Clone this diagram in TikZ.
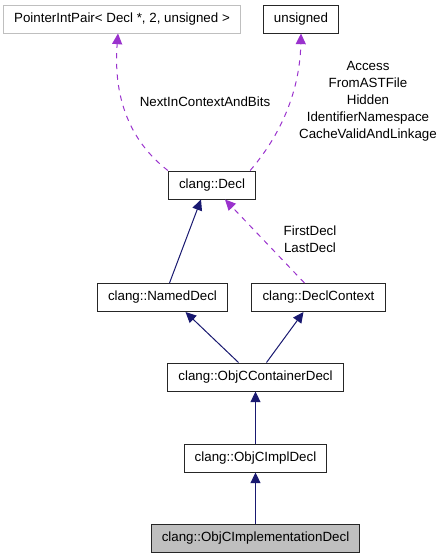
\documentclass[tikz,border=0pt]{standalone}
\usepackage{fontspec}
\setmainfont{Liberation Sans}
\usepackage{tikz}
\usetikzlibrary{arrows.meta, positioning, calc}
\definecolor{mynavy}{RGB}{25,25,112}
\definecolor{mypurple}{RGB}{154,50,205}
\definecolor{myedge}{RGB}{191,191,191}
\definecolor{myfill}{RGB}{191,191,191}
\tikzset{
  classbox/.style={rectangle, draw=black!85, fill=white,
    minimum height=21pt, inner xsep=8pt, inner ysep=0pt,
    font=\fontsize{10}{12}\selectfont, line width=0.75pt},
  extbox/.style={classbox, draw=myedge},
  focusbox/.style={classbox, fill=myfill},
  inharrow/.style={-{Triangle[length=8pt, width=7.5pt]}, line width=0.75pt, color=mynavy},
  usearrow/.style={-{Triangle[length=8pt, width=7.5pt]}, line width=0.75pt,
    color=mypurple, dash pattern=on 4pt off 4pt},
  edgelabel/.style={align=center, inner sep=0pt,
    font=\fontsize{10}{12.75}\selectfont}
}

\begin{document}
\begin{tikzpicture}[x=0.75pt, y=-0.75pt]
  \useasboundingbox (0,0) rectangle (440,557);

  \node[extbox] (pip) at (122,19) {PointerIntPair< Decl *, 2, unsigned >};
  \node[classbox] (uns) at (301,19) {unsigned};
  \node[classbox] (decl) at (212,185) {clang::Decl};
  \node[classbox] (named) at (162.5,297.5) {clang::NamedDecl};
  \node[classbox] (ctx) at (318.5,297.5) {clang::DeclContext};
  \node[classbox] (cont) at (255.5,377) {clang::ObjCContainerDecl};
  \node[classbox, below=39pt of cont] (impl) {clang::ObjCImplDecl};
  \node[focusbox, below=38.25pt of impl] (implem) {clang::ObjCImplementationDecl};

  % member edges
  \draw[usearrow] (decl.north west) .. controls (122,135) and (114,85) .. ($(pip.south)+(-4,0)$);
  \draw[usearrow] ($(decl.north east)+(-6,0)$) .. controls (285,130) and (300,85) .. (uns.south);
  \draw[usearrow] ($(ctx.north)+(-14,0)$) -- ($(decl.south)+(13,0)$);

  \node[edgelabel] (lnext) at (205,102) {NextInContextAndBits};
  \node[edgelabel] (lbits) at (368,101.5) {Access\\FromASTFile\\Hidden\\IdentifierNamespace\\CacheValidAndLinkage};
  \node[edgelabel] (lfirst) at (310,239.5) {FirstDecl\\LastDecl};

  % inheritance edges
  \draw[inharrow] ($(named.north)+(7,0)$) -- ($(decl.south)+(-11,0)$);
  \draw[inharrow] ($(cont.north)+(-17,0)$) -- ($(named.south)+(23,0)$);
  \draw[inharrow] ($(cont.north)+(11,0)$) -- ($(ctx.south)+(-15,0)$);
  \draw[inharrow] (impl) -- (cont);
  \draw[inharrow] (implem) -- (impl);
\end{tikzpicture}
\end{document}
